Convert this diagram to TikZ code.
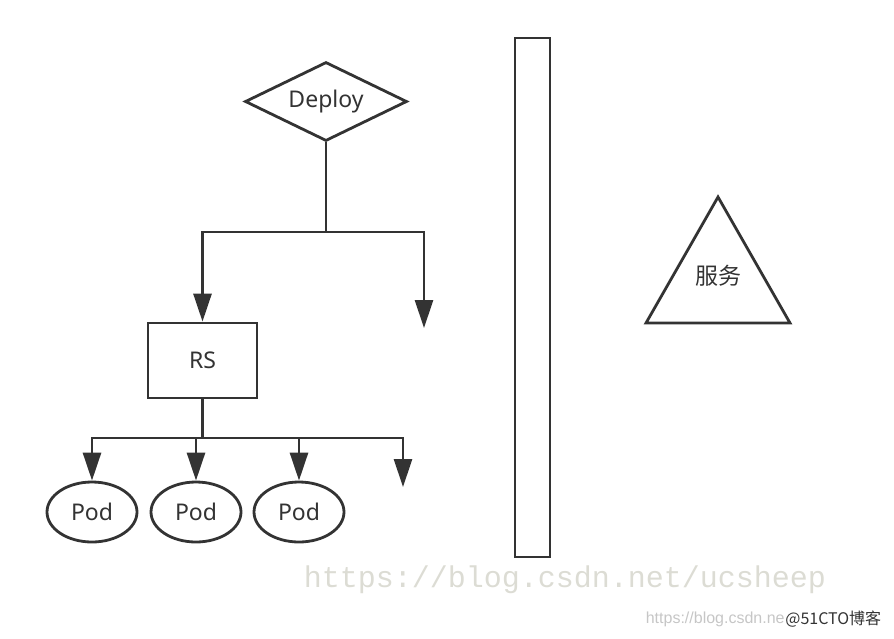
\documentclass[tikz,border=0pt]{standalone}
\usepackage{fontspec}
\setmainfont{Noto Sans}
\newfontfamily\cjk{Noto Sans CJK SC}
\newfontfamily\wmfont{Liberation Mono}
\newfontfamily\smallfont{Liberation Sans}
\usetikzlibrary{arrows.meta,shapes.geometric}
\definecolor{ink}{RGB}{51,51,51}
\definecolor{wmgray}{RGB}{220,220,212}

\begin{document}
\begin{tikzpicture}[x=1pt,y=-1pt,line width=2.8pt,draw=ink,text=ink]
                \tikzstyle{tree}=[draw=ink,line width=2.8pt]
                \tikzstyle{arr}=[tree,-{Triangle[length=28pt,width=18pt]}]
                \tikzstyle{label}=[font=\fontsize{23}{26}\selectfont]
                \tikzstyle{podbox}=[ellipse,draw=ink,label,minimum width=90pt,minimum height=60pt,inner sep=0pt]

                \useasboundingbox (0,0) rectangle (894,638);

                \node[diamond,draw=ink,label,aspect=2,inner sep=1pt,minimum width=162pt,minimum height=79pt] (deploy) at (326,101.5) {Deploy};
                \node[draw=ink,label,minimum width=109pt,minimum height=75pt] (rs) at (202.5,360.5) {RS};
                \node[podbox] (pod1) at (92,512) {Pod};
                \node[podbox] (pod2) at (196,512) {Pod};
                \node[podbox] (pod3) at (299,512) {Pod};

                \coordinate (top) at (326,232);
                \coordinate (topend) at (424,328);
                \coordinate (mid) at (202.5,438);
                \coordinate (midend) at (403,487);

                \draw[tree] (deploy.south) -- (top);
                \draw[arr] (top) -| (rs.north);
                \draw[arr] (top) -| (topend);

                \draw[tree] (rs.south) -- (mid);
                \draw[arr] (mid) -| (pod1.north);
                \draw[arr] (mid) -| (pod2.north);
                \draw[arr] (mid) -| (pod3.north);
                \draw[arr] (mid) -| (midend);

                % the tall bar in the middle
                \node[draw=ink,minimum width=35pt,minimum height=519pt,inner sep=0pt] (bar) at (532.5,297.5) {};

                % service triangle
                \coordinate (apex) at (718,197);
                \coordinate (baseR) at (790,323);
                \coordinate (baseL) at (646,323);
                \draw[tree,line join=miter] (apex) -- (baseR) -- (baseL) -- cycle;
                \node[label,font=\cjk\fontsize{23}{26}\selectfont] (svc) at (718,276) {服务};

                % watermarks
                \node[text=wmgray,font=\wmfont\fontsize{30}{32}\selectfont] (wm) at (565,580) {https://blog.csdn.net/ucsheep};
                \node[anchor=east,inner sep=0pt,text=gray!45,font=\smallfont\fontsize{16}{18}\selectfont] (wmurl) at (786,619) {https://blog.csdn.ne};
                \node[anchor=west,inner sep=0pt,text=black!80,font=\cjk\fontsize{16}{18}\selectfont] (wmsite) at (784,619) {@51CTO博客};
\end{tikzpicture}
\end{document}
